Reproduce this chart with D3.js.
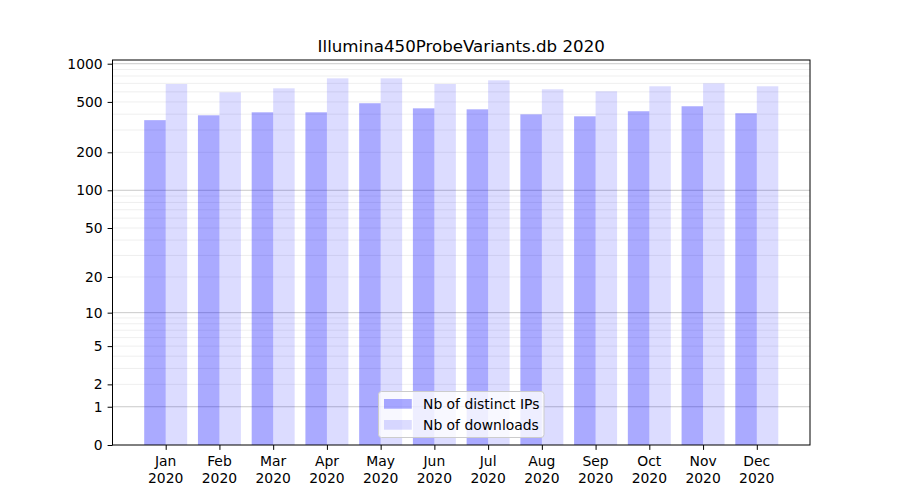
<!DOCTYPE html>
<html><head><meta charset="utf-8">
<script src="https://cdn.jsdelivr.net/npm/d3@7"></script>
<style>body{margin:0;background:#fff}text{font-family:"DejaVu Sans",sans-serif}</style>
</head><body><svg id="c" width="900" height="500"></svg>
<script>
const months = ["Jan","Feb","Mar","Apr","May","Jun","Jul","Aug","Sep","Oct","Nov","Dec"];
const year = "2020";
const ips = [359, 392, 414, 414, 488, 445, 437, 399, 385, 422, 462, 407];
const downloads = [692, 595, 640, 767, 767, 692, 740, 629, 606, 664, 700, 664];
const yTicks = [0, 1, 2, 5, 10, 20, 50, 100, 200, 500, 1000];
const seriesNames = ["Nb of distinct IPs", "Nb of downloads"];
const title = "Illumina450ProbeVariants.db 2020";

const svg = d3.select("#c");
const L = 112.5, R = 810, T = 60, B = 445;
const colIP = "rgba(0,0,255,0.333)", colDL = "rgba(0,0,255,0.137)";

const w = 0.4;
const xmin = -w, xmax = months.length - 1 + w, mx = 0.05 * (xmax - xmin);
const x = d3.scaleLinear().domain([xmin - mx, xmax + mx]).range([L, R]);
const tmax = Math.log10(1 + d3.max(ips.concat(downloads))) * 1.05;
const y = d3.scaleSymlog().constant(1).domain([0, Math.pow(10, tmax) - 1]).range([B, T]);

// grid
const minor = [];
[1, 10, 100].forEach(d => { for (let k = 2; k <= 9; k++) minor.push(d * k); });
svg.append("g").selectAll("line").data(minor).join("line")
  .attr("x1", L).attr("x2", R).attr("y1", d => y(d)).attr("y2", d => y(d))
  .attr("stroke", "#ebebeb").attr("stroke-width", 0.8);
svg.append("g").selectAll("line").data([1, 10, 100, 1000]).join("line")
  .attr("x1", L).attr("x2", R).attr("y1", d => y(d)).attr("y2", d => y(d))
  .attr("stroke", "#bdbdbd").attr("stroke-width", 0.8);

// bars
svg.append("g").selectAll("rect").data(ips).join("rect")
  .attr("x", (d, i) => x(i - w)).attr("width", (d, i) => x(i) - x(i - w))
  .attr("y", d => y(d)).attr("height", d => y(0) - y(d)).attr("fill", colIP);
svg.append("g").selectAll("rect").data(downloads).join("rect")
  .attr("x", (d, i) => x(i)).attr("width", (d, i) => x(i + w) - x(i))
  .attr("y", d => y(d)).attr("height", d => y(0) - y(d)).attr("fill", colDL);

// frame
svg.append("rect").attr("x", L).attr("y", T).attr("width", R - L).attr("height", B - T)
  .attr("fill", "none").attr("stroke", "#000").attr("stroke-width", 1);

// y axis
const ya = svg.append("g").attr("transform", `translate(${L},0)`)
  .call(d3.axisLeft(y).tickValues(yTicks).tickFormat(d3.format("d")).tickSize(4.9).tickPadding(4.9));
ya.select(".domain").remove();
ya.selectAll("text").attr("font-size", "13.9px").attr("fill", "#000").attr("font-family", "DejaVu Sans");
ya.selectAll("line").attr("stroke", "#000");

// x axis
const xa = svg.append("g").attr("transform", `translate(0,${B})`)
  .call(d3.axisBottom(x).tickValues(d3.range(months.length)).tickFormat("").tickSize(4.9));
xa.select(".domain").remove();
xa.selectAll("line").attr("stroke", "#000");
const xl = svg.append("g").selectAll("text").data(months).join("text")
  .attr("x", (d, i) => x(i)).attr("text-anchor", "middle").attr("font-size", "13.9px");
xl.append("tspan").attr("x", (d, i) => x(i)).attr("y", 466).text(d => d);
xl.append("tspan").attr("x", (d, i) => x(i)).attr("y", 482.5).text(year);

// title
svg.append("text").attr("x", (L + R) / 2).attr("y", 51.7).attr("text-anchor", "middle")
  .attr("font-size", "16.67px").text(title);

// legend
const lg = svg.append("g");
lg.append("rect").attr("x", 378.5).attr("y", 391.5).attr("width", 165.5).attr("height", 46)
  .attr("rx", 3).attr("fill", "rgba(255,255,255,0.8)").attr("stroke", "#cccccc").attr("stroke-width", 1);
[colIP, colDL].forEach((c, i) => {
  lg.append("rect").attr("x", 384).attr("y", 399 + i * 21).attr("width", 27.8).attr("height", 9.7).attr("fill", c);
  lg.append("text").attr("x", 423).attr("y", 409 + i * 21).attr("font-size", "13.9px").text(seriesNames[i]);
});
</script></body></html>
